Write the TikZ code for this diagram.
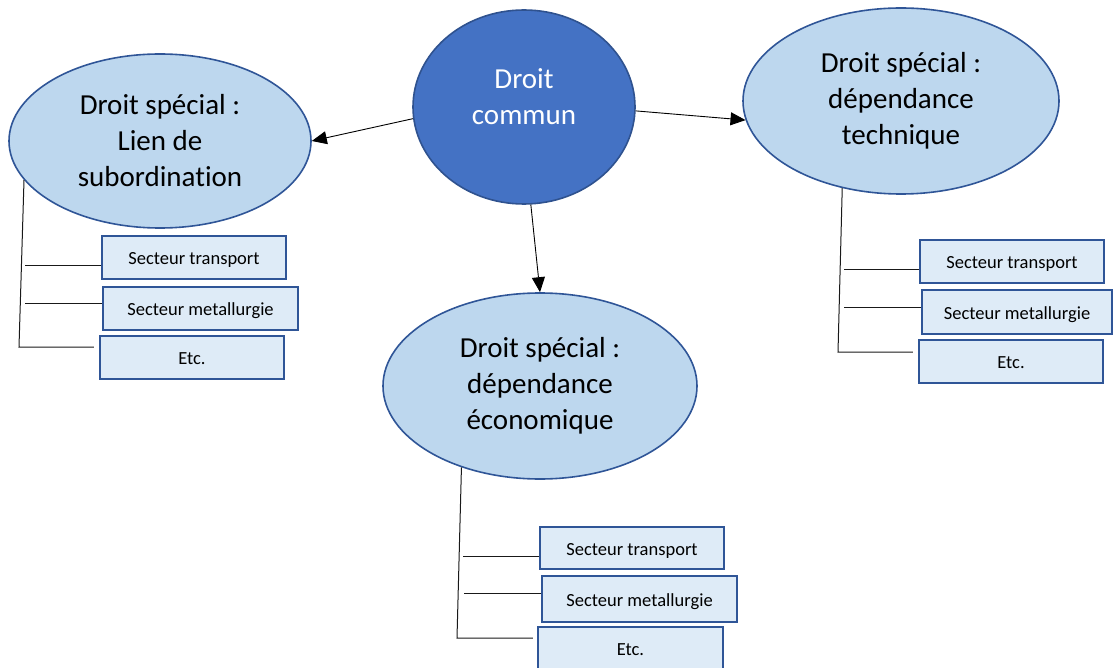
\documentclass[tikz,border=0pt]{standalone}
\usepackage{fontspec}
\setmainfont{Carlito}[Ligatures=NoCommon]
\usetikzlibrary{shapes.geometric}
\usetikzlibrary{arrows.meta}
\tikzset{>={Triangle[length=15pt,width=13pt]}}

\definecolor{communfill}{HTML}{4472C4}
\definecolor{communedge}{HTML}{2F528F}
\definecolor{specialfill}{HTML}{BDD7EE}
\definecolor{secteurfill}{HTML}{DEEBF7}
\definecolor{edgeblue}{HTML}{2F5597}

\tikzset{
	droit/.style={ellipse, draw=edgeblue, line width=1.6pt, fill=specialfill,
		inner sep=0pt, align=center, font=\fontsize{29}{36}\selectfont},
	secteur/.style={rectangle, draw=edgeblue, line width=2.2pt, fill=secteurfill,
		inner sep=0pt, minimum height=43pt, text height=18pt, text depth=4pt,
		font=\fontsize{18.5}{22}\selectfont},
	branche/.style={black!90, line width=1pt},
	fleche/.style={->, black, line width=0.9pt}
}

\begin{document}
\begin{tikzpicture}[x=1pt,y=-1pt]
		\useasboundingbox (0,0) rectangle (1113,668);
		% ellipses
		\node[droit, fill=communfill, draw=communedge, text=white,
			minimum width=222pt, minimum height=194pt] (commun) at (524,107) {Droit\\commun\\[-15pt]\mbox{}};
		\node[droit, minimum width=302pt, minimum height=174pt] (lien) at (160,141) {Droit spécial :\\Lien de\\subordination};
		\node[droit, minimum width=316pt, minimum height=186pt] (tech) at (901,101) {Droit spécial :\\dépendance\\technique};
		\node[droit, minimum width=314pt, minimum height=186pt] (eco) at (540,386) {Droit spécial :\\dépendance\\économique};
		\draw[fleche] (commun.186) -- (lien.east);
		\draw[fleche] (commun.-2) -- (tech.187);
		\draw[fleche] (commun.-86) -- (eco.north);
		% secteurs : lien de subordination
		\node[secteur, minimum width=184pt] (lien1) at (194,257.5) {Secteur transport};
		\node[secteur, minimum width=195pt] (lien2) at (200.5,308.5) {Secteur metallurgie};
		\node[secteur, minimum width=184pt] (lien3) at (192,357.5) {Etc.};
		\coordinate (lienA) at (25,266);
		\coordinate (lienB) at (25,303);
		\coordinate (lienC) at (19,347);
		\draw[branche] (lien.196) -- (lienC) -- ([xshift=-5pt]lien3.west |- lienC);
		\draw[branche] (lienA) -- (lienA -| lien1.west);
		\draw[branche] (lienB) -- (lienB -| lien2.west);
		% secteurs : dependance technique
		\node[secteur, minimum width=184pt] (tech1) at (1012,261.5) {Secteur transport};
		\node[secteur, minimum width=190pt, minimum height=44pt] (tech2) at (1017,312) {Secteur metallurgie};
		\node[secteur, minimum width=184pt] (tech3) at (1011,361.5) {Etc.};
		\coordinate (techA) at (844,270);
		\coordinate (techB) at (844,307);
		\coordinate (techC) at (838,352);
		\draw[branche] (tech.236) -- (techC) -- ([xshift=-5pt]tech3.west |- techC);
		\draw[branche] (techA) -- (techA -| tech1.west);
		\draw[branche] (techB) -- (techB -| tech2.west);
		% secteurs : dependance economique
		\node[secteur, minimum width=184pt, minimum height=42pt] (eco1) at (632,548) {Secteur transport};
		\node[secteur, minimum width=195pt, minimum height=46pt] (eco2) at (639.5,599) {Secteur metallurgie};
		\node[secteur, minimum width=185pt] (eco3) at (630.5,648.5) {Etc.};
		\coordinate (ecoA) at (463,556);
		\coordinate (ecoB) at (464,593);
		\coordinate (ecoC) at (457,638);
		\draw[branche] (eco.226) -- (ecoC) -- ([xshift=-4pt]eco3.west |- ecoC);
		\draw[branche] (ecoA) -- (ecoA -| eco1.west);
		\draw[branche] (ecoB) -- (ecoB -| eco2.west);
	\end{tikzpicture}
\end{document}
